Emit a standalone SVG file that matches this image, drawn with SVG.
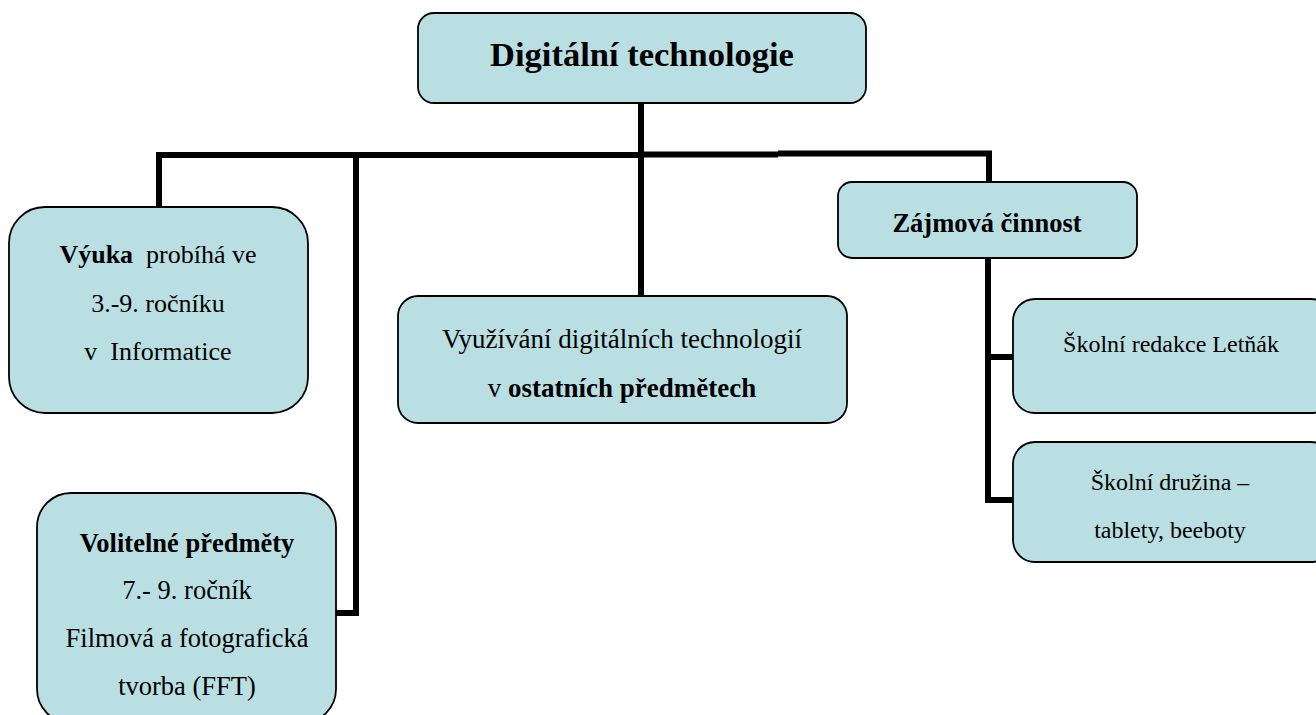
<svg xmlns="http://www.w3.org/2000/svg" width="1316" height="715" viewBox="0 0 1316 715">
<style>
.box{fill:#b9dfe3;stroke:#000;stroke-width:1.8}
.ln{fill:none;stroke:#000;stroke-width:6;stroke-linejoin:miter;stroke-linecap:butt}
.tx{fill:#000;text-anchor:middle}
.b{font-weight:bold}
</style>
<rect width="1316" height="715" fill="#fff"/>
<g id="connectors">
<polyline class="ln" points="159,207 159,155 641,155" stroke-width="7"/>
<polyline class="ln" points="641,154.5 778,154.5"/>
<polyline class="ln" points="778,153.5 989,153.5 989,182" stroke-width="5"/>
<line class="ln" x1="641" y1="103" x2="641" y2="296"/>
<polyline class="ln" points="356,155 356,613 335,613"/>
<polyline class="ln" points="988,258 988,500 1013,500"/>
<line class="ln" x1="988" y1="357" x2="1013" y2="357"/>
</g>
<g id="n-root" font-family="Liberation Serif" font-size="34.5">
<rect class="box" x="418" y="13" width="448" height="90" rx="16"/>
<text class="tx b" x="642" y="66">Digitální technologie</text>
</g>
<g id="n-vyuka" font-family="Liberation Serif" font-size="26">
<rect class="box" x="9" y="207" width="299" height="206" rx="36"/>
<text class="tx" x="158" y="263" xml:space="preserve"><tspan class="b">Výuka</tspan>  probíhá ve</text>
<text class="tx" x="158" y="312">3.-9. ročníku</text>
<text class="tx" x="158" y="360" xml:space="preserve">v  Informatice</text>
</g>
<g id="n-volitelne" font-family="Liberation Serif" font-size="26.5">
<rect class="box" x="37" y="493" width="299" height="230" rx="34"/>
<text class="tx b" x="187" y="552">Volitelné předměty</text>
<text class="tx" x="187" y="599">7.- 9. ročník</text>
<text class="tx" x="187" y="647">Filmová a fotografická</text>
<text class="tx" x="187" y="695">tvorba (FFT)</text>
</g>
<g id="n-vyuzivani" font-family="Liberation Serif" font-size="27">
<rect class="box" x="398" y="296" width="449" height="127" rx="20"/>
<text class="tx" x="622" y="348">Využívání digitálních technologií</text>
<text class="tx" x="622" y="397">v <tspan class="b">ostatních předmětech</tspan></text>
</g>
<g id="n-zajmova" font-family="Liberation Serif" font-size="26.5">
<rect class="box" x="838" y="182" width="299" height="76" rx="14"/>
<text class="tx b" x="987" y="232">Zájmová činnost</text>
</g>
<g id="n-redakce" font-family="Liberation Serif" font-size="24">
<rect class="box" x="1013" y="299" width="320" height="114" rx="22"/>
<text class="tx" x="1171" y="352">Školní redakce Letňák</text>
</g>
<g id="n-druzina" font-family="Liberation Serif" font-size="24">
<rect class="box" x="1013" y="442" width="320" height="120" rx="22"/>
<text class="tx" x="1170" y="490">Školní družina –</text>
<text class="tx" x="1170" y="538">tablety, beeboty</text>
</g>
</svg>
